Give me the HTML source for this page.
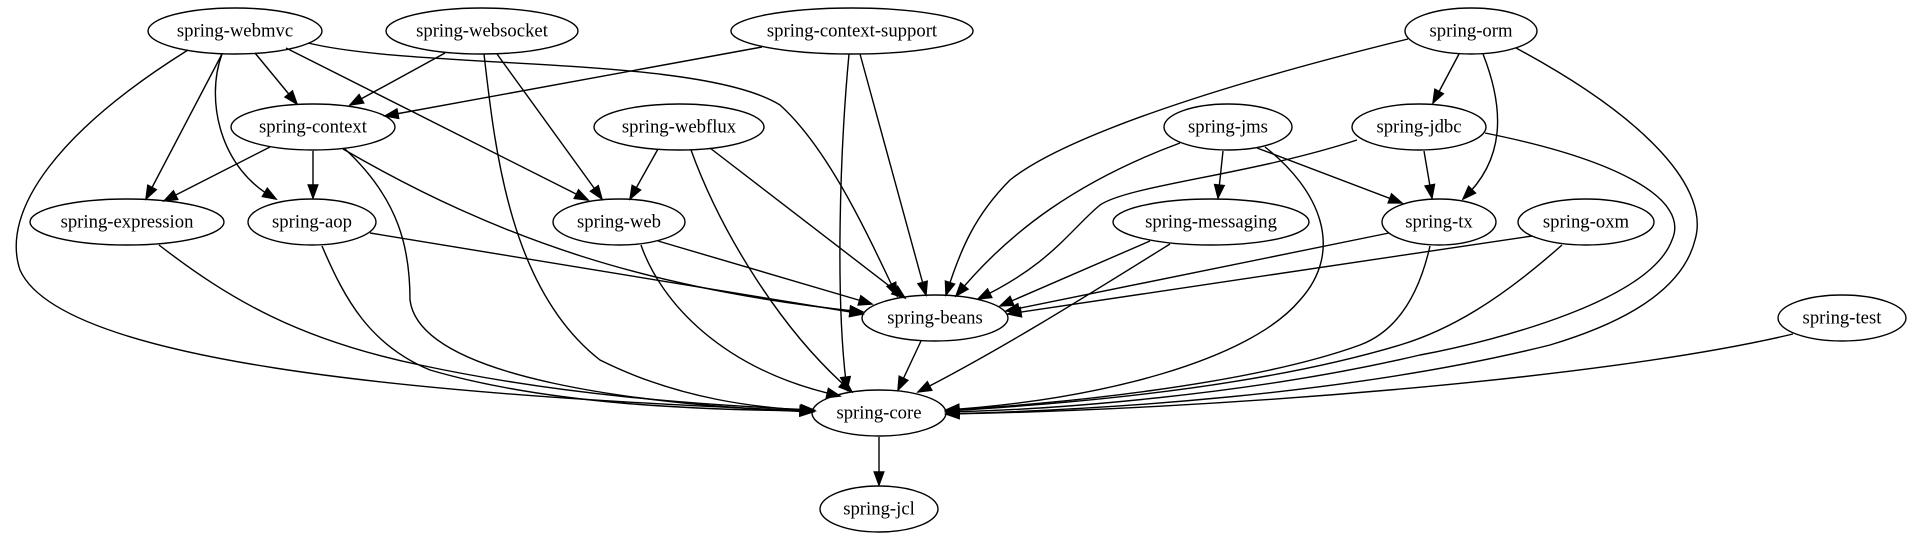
<!DOCTYPE html>
<html><head><meta charset="utf-8"><style>
html,body{margin:0;padding:0;background:#fff;}
svg{display:block;}
text{font-family:"Liberation Serif",serif;font-size:18.7px;text-anchor:middle;dominant-baseline:central;fill:#000;}
ellipse{fill:none;stroke:#000;stroke-width:1.4;}
path{fill:none;stroke:#000;stroke-width:1.4;}
polygon{fill:#000;stroke:#000;stroke-width:1.4;}
</style></head><body>
<svg id="g" width="1911" height="539" viewBox="0 0 1911 539" xmlns="http://www.w3.org/2000/svg">
<g id="edges">
<path d="M255,53 L297,104"/>
<path d="M222,54 L146,199"/>
<path d="M222,54 C205,100 220,170 276,199"/>
<path d="M286,48 L588,200"/>
<path d="M308,43 C420,70 700,55 780,105 C830,150 870,240 897,296"/>
<path d="M188,50 C60,130 0,210 20,270 C60,360 400,395 813,411"/>
<path d="M445,53 L350,105"/>
<path d="M497,54 L602,199"/>
<path d="M484,54 C495,150 510,290 600,360 C680,400 760,408 815,411"/>
<path d="M762,47 L385,116"/>
<path d="M860,54 L926,295"/>
<path d="M849,54 C840,150 835,300 847,390"/>
<path d="M270,147 L164,201"/>
<path d="M313,151 L313,198"/>
<path d="M343,149 C500,240 650,290 863,312"/>
<path d="M345,149 C400,200 410,250 410,300 C420,380 650,405 813,412"/>
<path d="M658,149 L630,199"/>
<path d="M710,148 L905,298"/>
<path d="M691,150 C720,230 780,330 852,392"/>
<path d="M1459,54 L1433,103"/>
<path d="M1483,54 C1505,110 1505,160 1463,199"/>
<path d="M1408,39 C1200,90 1060,140 1010,180 C975,215 960,250 946,295"/>
<path d="M1516,48 C1650,120 1710,190 1695,240 C1680,300 1600,330 1550,345 C1350,395 1100,410 946,414"/>
<path d="M1223,151 L1218,198"/>
<path d="M1257,148 L1402,203"/>
<path d="M1180,143 C1080,180 1010,230 956,296"/>
<path d="M1265,147 C1320,190 1345,250 1300,300 C1250,360 1100,400 946,410"/>
<path d="M1424,151 L1432,198"/>
<path d="M1357,140 C1250,175 1130,185 1100,205 C1070,230 1050,265 978,299"/>
<path d="M1485,133 C1620,160 1690,200 1672,240 C1650,300 1500,340 1420,355 C1250,395 1050,410 946,412"/>
<path d="M159,245 C230,300 300,340 420,365 C560,395 700,405 814,410"/>
<path d="M370,233 L863,314"/>
<path d="M322,246 C345,300 370,345 430,370 C550,405 700,410 814,411"/>
<path d="M658,241 L872,304"/>
<path d="M641,245 C660,300 720,370 840,396"/>
<path d="M1150,241 L1000,306"/>
<path d="M1170,244 C1080,300 1000,350 918,392"/>
<path d="M1389,233 L1006,311"/>
<path d="M1430,246 C1420,290 1400,330 1360,345 C1250,385 1050,405 946,410"/>
<path d="M1532,236 L1008,314"/>
<path d="M1562,245 C1500,300 1450,330 1400,345 C1250,390 1050,405 946,411"/>
<path d="M921,341 L898,390"/>
<path d="M1793,334 C1600,380 1200,410 946,414"/>
<path d="M879,437 L879,485"/>
</g>
<g id="arrows"></g>
<g>
<ellipse cx="235" cy="31" rx="87" ry="23"/><text x="235" y="31">spring-webmvc</text>
<ellipse cx="482" cy="31" rx="96" ry="23"/><text x="482" y="31">spring-websocket</text>
<ellipse cx="852" cy="31" rx="121" ry="23"/><text x="852" y="31">spring-context-support</text>
<ellipse cx="1471" cy="31" rx="66" ry="23"/><text x="1471" y="31">spring-orm</text>
<ellipse cx="313" cy="127" rx="82" ry="23"/><text x="313" y="127">spring-context</text>
<ellipse cx="679" cy="127" rx="85" ry="23"/><text x="679" y="127">spring-webflux</text>
<ellipse cx="1228" cy="127" rx="64" ry="23"/><text x="1228" y="127">spring-jms</text>
<ellipse cx="1419" cy="127" rx="67" ry="23"/><text x="1419" y="127">spring-jdbc</text>
<ellipse cx="127" cy="222" rx="97" ry="23"/><text x="127" y="222">spring-expression</text>
<ellipse cx="312" cy="222" rx="64" ry="23"/><text x="312" y="222">spring-aop</text>
<ellipse cx="619" cy="222" rx="66" ry="23"/><text x="619" y="222">spring-web</text>
<ellipse cx="1211" cy="222" rx="98" ry="23"/><text x="1211" y="222">spring-messaging</text>
<ellipse cx="1439" cy="222" rx="57" ry="23"/><text x="1439" y="222">spring-tx</text>
<ellipse cx="1586" cy="222" rx="68" ry="23"/><text x="1586" y="222">spring-oxm</text>
<ellipse cx="935" cy="318" rx="73" ry="23"/><text x="935" y="318">spring-beans</text>
<ellipse cx="1842" cy="318" rx="64" ry="23"/><text x="1842" y="318">spring-test</text>
<ellipse cx="879" cy="413" rx="67" ry="23"/><text x="879" y="413">spring-core</text>
<ellipse cx="879" cy="509" rx="59" ry="23"/><text x="879" y="509">spring-jcl</text>
</g>
</svg>
<script>
(function(){
var ns="http://www.w3.org/2000/svg";
var ag=document.getElementById("arrows");
var ps=document.querySelectorAll("#edges path");
for(var i=0;i<ps.length;i++){
var p=ps[i],L=p.getTotalLength();
var t=p.getPointAtLength(L),b=p.getPointAtLength(Math.max(0,L-13));
var dx=t.x-b.x,dy=t.y-b.y,d=Math.sqrt(dx*dx+dy*dy)||1;
var ux=dx/d,uy=dy/d,bx=t.x-ux*13,by=t.y-uy*13,w=4.8;
var pg=document.createElementNS(ns,"polygon");
pg.setAttribute("points",t.x+","+t.y+" "+(bx-uy*w)+","+(by+ux*w)+" "+(bx+uy*w)+","+(by-ux*w));
ag.appendChild(pg);
}
})();
</script>
</body></html>
